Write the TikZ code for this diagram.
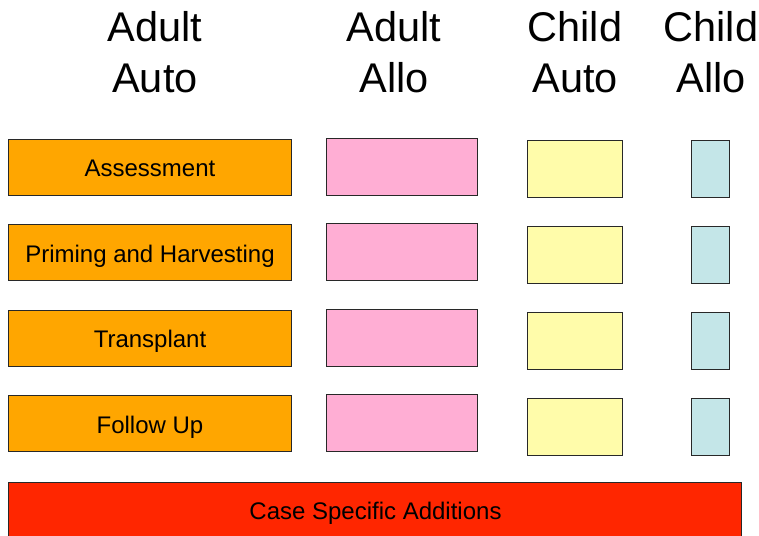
\documentclass[tikz,border=0pt]{standalone}
\usepackage{fontspec}
\setmainfont{Liberation Sans}
\definecolor{cOrange}{RGB}{255,166,0}
\definecolor{cPink}{RGB}{255,174,212}
\definecolor{cYellow}{RGB}{255,252,170}
\definecolor{cBlue}{RGB}{196,230,232}
\definecolor{cRed}{RGB}{255,38,0}
\definecolor{cEdge}{RGB}{40,40,40}
\begin{document}
\begin{tikzpicture}[x=1pt,y=-1pt,
  box/.style={draw=cEdge,line width=1pt,inner sep=0pt,anchor=north west},
  lbl/.style={inner sep=0pt,text height=17.2pt,text depth=0pt,font=\fontsize{24}{28}\selectfont},
  obox/.style={box,fill=cOrange,minimum width=283pt,minimum height=56pt},
  pbox/.style={box,fill=cPink,minimum width=151pt,minimum height=57pt},
  ybox/.style={box,fill=cYellow,minimum width=95pt,minimum height=57pt},
  bbox/.style={box,fill=cBlue,minimum width=38pt,minimum height=57pt},
  head/.style={align=center,inner sep=0pt,anchor=north,font=\fontsize{41.5}{51}\selectfont}]
\useasboundingbox (0,0) rectangle (759,535);
% headers
\node[head] (h1) at (155,11) {Adult\\Auto};
\node[head] (h2) at (394,11) {Adult\\Allo};
\node[head] (h3) at (575,11) {Child\\Auto};
\node[head] (h4) at (711,11) {Child\\Allo};
% orange
\node[obox] (o1) at (8,139) {};
\node[obox] (o2) at (8,224) {};
\node[obox] (o3) at (8,309.5) {};
\node[obox] (o4) at (8,395) {};
\node[lbl] (t1) at ([yshift=-0.8pt]o1.center) {Assessment};
\node[lbl] (t2) at ([yshift=-1pt]o2.center) {Priming and Harvesting};
\node[lbl] (t3) at ([yshift=-1pt]o3.center) {Transplant};
\node[lbl] (t4) at ([yshift=-1pt]o4.center) {Follow Up};
% pink
\node[pbox] (p1) at (326,138) {};
\node[pbox] (p2) at (326,223) {};
\node[pbox] (p3) at (326,308.5) {};
\node[pbox] (p4) at (326,394) {};
% yellow
\node[ybox] (y1) at (527,140) {};
\node[ybox] (y2) at (527,226) {};
\node[ybox] (y3) at (527,312) {};
\node[ybox] (y4) at (527,398) {};
% blue
\node[bbox] (b1) at (691,140) {};
\node[bbox] (b2) at (691,226) {};
\node[bbox] (b3) at (691,312) {};
\node[bbox] (b4) at (691,398) {};
% red
\node[box,fill=cRed,minimum width=733pt,minimum height=56pt] (r) at (8,482) {};
\node[lbl] (rt) at (375.5,511) {Case Specific Additions};
\end{tikzpicture}
\end{document}
